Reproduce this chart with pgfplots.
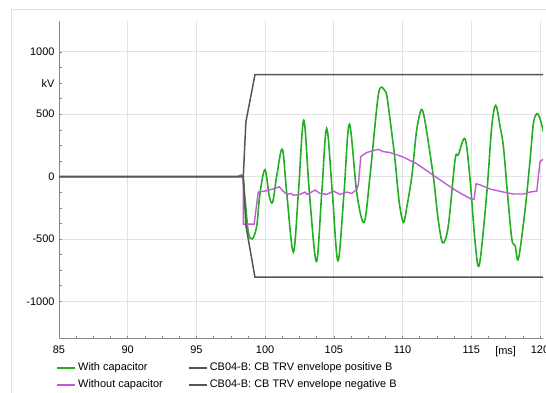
\documentclass[border=0pt]{standalone}
\usepackage{pgfplots}
\pgfplotsset{compat=1.18}
\usepackage{fontspec}
\setmainfont{Liberation Sans}
\definecolor{cgreen}{RGB}{34,174,34}
\definecolor{cpurple}{RGB}{190,92,210}
\definecolor{cenv}{RGB}{85,88,80}
\definecolor{cgrid}{RGB}{226,226,226}
\definecolor{caxis}{RGB}{135,135,135}
\definecolor{cframe}{RGB}{225,225,225}
\begin{document}
\begin{tikzpicture}
\draw[cframe, line width=0.8pt] (-48bp,329.7bp) rectangle (600bp,-120bp);
\begin{axis}[
  at={(0,0)}, anchor=south west,
  scale only axis, width=484bp, height=318bp,
  xmin=85, xmax=120.22, ymin=-1300, ymax=1250,
  axis x line=bottom, axis y line=left,
  axis line style={-, caxis, line width=0.8pt},
  font=\fontsize{11}{13}\selectfont,
  xtick={85,90,95,100,105,110,115,120},
  xticklabels={85,90,95,100,105,110,115,120},
  extra x ticks={117.5}, extra x tick labels={[ms]},
  extra x tick style={grid=none, major tick length=0pt},
  ytick={-1000,-500,0,500,1000},
  yticklabels={-1000,-500,0,500,1000},
  extra y ticks={750}, extra y tick labels={kV},
  extra y tick style={grid=none},
  minor x tick num=3, minor y tick num=3,
  tick align=inside,
  major tick length=3bp, minor tick length=3bp,
  tick style={caxis, line width=0.5pt},
  xmajorgrids, ymajorgrids,
  major grid style={cgrid, line width=0.8pt},
  xticklabel style={yshift=-4bp},
  yticklabel style={xshift=-1bp},
  legend columns=2,
  legend cell align=left,
  legend style={at={(0,0)}, anchor=north west, xshift=-6bp, yshift=-20bp,
    draw=none, fill=none, font=\fontsize{11}{13}\selectfont,
    /tikz/every even column/.append style={column sep=23bp},
    row sep=3.5bp},
  legend image code/.code={\draw[#1, line width=2pt] (0bp,0bp) -- (18bp,0bp);},
]
\addplot[cgreen, line width=1.6pt, smooth, tension=0.55] coordinates {
(85,0) (90,0) (95,0) (97,0) (98,0) (98.37,0) (98.54,-183) (98.78,-447) (99.07,-500) (99.39,-394) (99.63,-130)
(99.99,56) (100.3,-156) (100.55,-204) (100.84,3) (101.25,220) (101.57,-130)
(102.05,-606) (102.42,-130) (102.81,452) (103.22,-130) (103.73,-680) (104.12,-130)
(104.48,386) (104.89,-130) (105.3,-675) (105.74,-130) (106.13,420) (106.67,-130)
(107.2,-368) (107.63,3) (108.12,550) (108.3,690) (108.49,717) (108.7,690) (108.85,651)
(109.1,450) (109.45,135) (109.75,-200) (110.06,-368) (110.3,-250) (110.67,0) (111.0,350)
(111.27,510) (111.45,532) (111.7,399) (112.24,0) (112.6,-350) (112.93,-532) (113.33,-394)
(113.82,135) (114.06,175) (114.55,302) (114.91,-20) (115.28,-526) (115.59,-706)
(116.13,-130) (116.49,400) (116.78,571) (117.1,400) (117.34,240) (117.63,-130)
(117.95,-500) (118.19,-553) (118.43,-659) (118.92,-262) (119.28,135) (119.52,426)
(119.77,505) (120.0,465) (120.25,360)
};
\addlegendentry{With capacitor}
\addplot[cenv, line width=1.5pt] coordinates {
(85,0) (98.41,0) (98.6,439) (99.26,817) (120.3,817)
};
\addlegendentry{CB04-B: CB TRV envelope positive B}
\addplot[cpurple, line width=1.4pt] coordinates {
(85,0) (98.4,0) (98.42,-381) (99.2,-381) (99.5,-124) (100.0,-116) (100.6,-98)
(101.03,-82) (101.3,-115) (101.57,-143) (101.9,-135) (102.05,-150) (102.54,-143)
(102.9,-124) (103.07,-143) (103.63,-108) (103.99,-135) (104.48,-143) (104.97,-116)
(105.45,-143) (105.94,-124) (106.3,-135) (106.67,-103) (106.79,-60) (106.96,161)
(107.4,193) (107.87,209) (108.24,218) (108.6,200) (109.09,193) (110.06,156)
(111.03,103) (112.0,29) (112.97,-45) (113.94,-116) (115.03,-183) (115.2,-183)
(115.35,-58) (115.6,-65) (116.37,-100) (117.34,-124) (118.07,-140) (118.8,-140)
(119.28,-124) (119.77,-116) (120.0,120) (120.25,140)
};
\addlegendentry{Without capacitor}
\addplot[cenv, line width=1.5pt] coordinates {
(85,0) (98.41,0) (98.6,-394) (99.26,-807) (120.3,-807)
};
\addlegendentry{CB04-B: CB TRV envelope negative B}
\end{axis}
\pgfresetboundingbox
\path (-59bp,-54.3bp) rectangle (487bp,338.7bp);
\end{tikzpicture}
\end{document}
